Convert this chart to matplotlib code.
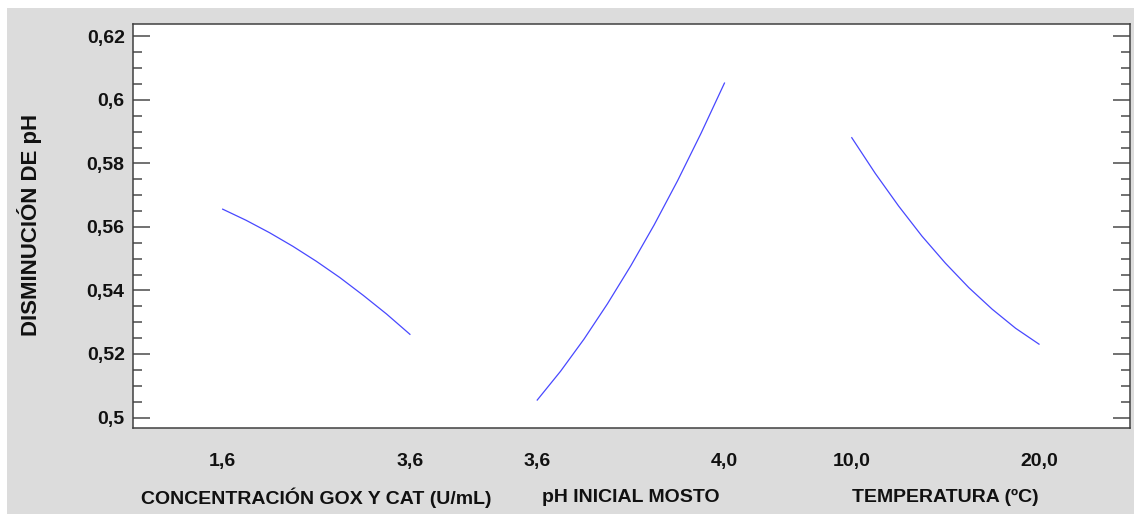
import numpy as np
import matplotlib
matplotlib.use("Agg")
import matplotlib.pyplot as plt
from matplotlib.patches import Rectangle
from matplotlib.ticker import MultipleLocator, FixedLocator

# factor levels (low -> high) and the response
conc_x = [1.6, 1.85, 2.1, 2.35, 2.6, 2.85, 3.1, 3.35, 3.6]
conc_y = [0.5656, 0.5621, 0.5582, 0.5539, 0.5492, 0.5441, 0.5385, 0.5326, 0.5262]

ph_x = [3.6, 3.65, 3.7, 3.75, 3.8, 3.85, 3.9, 3.95, 4.0]
ph_y = [0.5055, 0.5146, 0.5247, 0.5358, 0.5478, 0.5607, 0.5746, 0.5895, 0.6053]

temp_x = [10.0, 11.25, 12.5, 13.75, 15.0, 16.25, 17.5, 18.75, 20.0]
temp_y = [0.5881, 0.5769, 0.5666, 0.5571, 0.5486, 0.5409, 0.5341, 0.5281, 0.5231]

factor_names = ["CONCENTRACIÓN GOX Y CAT (U/mL)", "pH INICIAL MOSTO", "TEMPERATURA (ºC)"]
low_labels = ["1,6", "3,6", "10,0"]
high_labels = ["3,6", "4,0", "20,0"]

y_ticks = [0.50, 0.52, 0.54, 0.56, 0.58, 0.60, 0.62]
y_tick_labels = ["0,5", "0,52", "0,54", "0,56", "0,58", "0,6", "0,62"]

W, H = 1134, 515
fig = plt.figure(figsize=(W / 100, H / 100), dpi=100, facecolor="white")
bg = Rectangle((7 / W, 1 / H), 1 - 7 / W, (H - 9) / H, transform=fig.transFigure,
               facecolor="#dcdcdc", edgecolor="none", zorder=-10)
fig.add_artist(bg)

ax = fig.add_axes([133 / W, 87 / H, 997 / W, 404 / H])
ax.set_zorder(5)
ax.set_facecolor("white")

plt.rcParams["font.family"] = ["Liberation Sans", "DejaVu Sans"]
font = dict(family=["Liberation Sans", "DejaVu Sans"], weight="bold", size=14)

step = 1.68
series = [(conc_x, conc_y), (ph_x, ph_y), (temp_x, temp_y)]
xt, xl = [], []
for i, (xs, ys) in enumerate(series):
    xs = np.array(xs)
    pos = i * step + (xs - xs[0]) / (xs[-1] - xs[0])
    ax.plot(pos, ys, color="#4848ff", lw=0.9)
    xt += [pos[0], pos[-1]]
    xl += [low_labels[i], high_labels[i]]
    ax.text((pos[0] + pos[-1]) / 2, -0.172, factor_names[i], transform=ax.get_xaxis_transform(),
            ha="center", va="center", color="#111111", **font)

ax.set_xlim(-0.479, 2 * step + 1 + 0.486)
ax.set_ylim(0.4967, 0.6239)

ax.set_xticks(xt)
ax.set_xticklabels(xl, color="#111111", **font)
ax.tick_params(axis="x", length=0, pad=18)

ax.yaxis.set_major_locator(FixedLocator(y_ticks))
ax.set_yticklabels(y_tick_labels, color="#111111", **font)
ax.yaxis.set_minor_locator(MultipleLocator(0.005))
ax.tick_params(axis="y", which="both", direction="in", left=True, right=True,
               color="#4a4a4a", width=1.1)
ax.tick_params(axis="y", which="major", length=12.5, pad=6)
ax.tick_params(axis="y", which="minor", length=6.5)

for s in ax.spines.values():
    s.set_color("#404040")
    s.set_linewidth(1.1)

fig.text(30 / W, 1 - 225 / H, "DISMINUCIÓN DE pH", rotation=90, ha="center", va="center",
         color="#111111", family=["Liberation Sans", "DejaVu Sans"], weight="bold", size=16)

fig.savefig("out.png", dpi=100, facecolor=fig.get_facecolor())
